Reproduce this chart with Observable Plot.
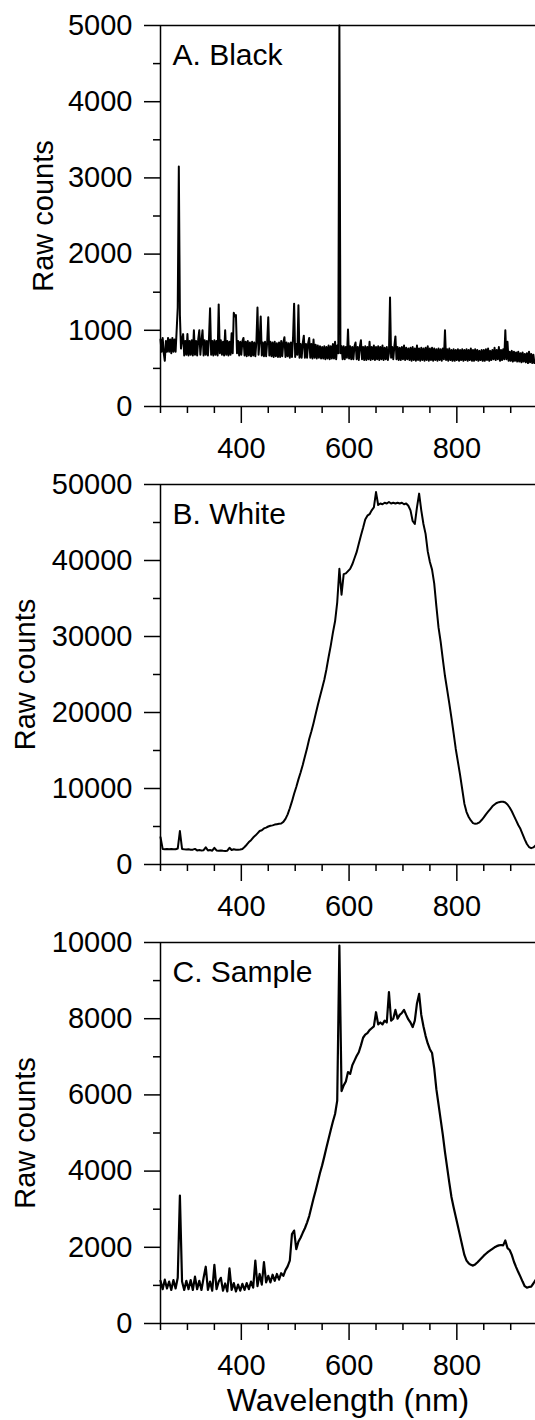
<!DOCTYPE html>
<html><head><meta charset="utf-8">
<script src="https://cdn.jsdelivr.net/npm/d3@7"></script>
<script src="https://cdn.jsdelivr.net/npm/@observablehq/plot@0.6"></script>
<style>
html,body{margin:0;padding:0;background:#fff;}
#chart{position:relative;width:535px;height:1420px;overflow:hidden;background:#fff;}
#chart svg{position:absolute;left:0;}
</style></head><body><div id="chart"></div>
<script>
// Spectra sampling (nm): first wavelength and step of each series
const wavelengthStart = 250;
const blackStep = 2;
const whiteStep = 4;
const sampleStep = 4;

// A. Black — raw counts (every 2 nm from 250 nm)
const blackCounts = [
880,720,900,700,600,860,720,900,720,880,
700,900,720,880,720,1000,1300,3150,1200,760,
880,950,670,860,680,950,670,860,680,870,
670,1000,680,860,670,880,1000,680,860,1000,
670,870,680,860,670,900,1290,680,860,670,
870,680,860,670,1340,700,870,680,850,670,
1000,680,860,670,850,680,960,700,1230,1180,
1200,700,860,670,850,680,860,900,670,850,
660,860,670,840,660,850,670,840,660,850,
1300,680,860,1180,670,840,660,850,660,840,
1170,670,850,660,840,650,850,660,830,650,
840,650,860,660,840,910,650,840,660,830,
640,840,650,900,1350,650,820,680,1330,640,
820,640,830,930,640,820,640,830,900,640,
820,630,880,640,810,630,800,640,790,630,
780,630,790,620,780,630,800,620,790,630,
820,630,850,620,800,700,5000,700,790,620,
790,620,780,640,1010,630,790,620,780,620,
790,840,620,780,610,790,870,620,780,610,
790,610,780,620,850,610,780,620,800,610,
780,620,790,610,780,620,800,610,770,620,
780,610,700,1430,640,780,620,790,920,620,
780,610,770,610,780,620,800,610,770,620,
760,610,770,600,780,610,760,600,800,610,
760,600,770,610,760,600,770,610,790,600,
760,610,770,600,760,610,750,600,760,610,
750,600,760,620,1000,610,750,600,760,610,
740,600,750,600,740,610,750,600,740,610,
750,600,740,610,750,600,740,610,760,600,
740,600,750,610,740,600,730,610,740,600,
740,600,750,610,760,600,730,610,740,620,
770,610,740,620,780,600,740,610,750,620,
1000,620,850,600,720,600,730,590,720,600,
710,590,720,590,700,580,710,590,690,580,
700,570,720,580,690,570,680,570,600
];

// B. White — raw counts (every 4 nm from 250 nm)
const whiteCounts = [
3600,2050,2000,2050,2000,2050,2000,2000,2100,4400,
2050,2000,1980,2000,1950,1950,2050,1850,1900,1850,
1880,2250,1850,1900,1820,2200,1850,1800,1850,1800,
1780,1820,2200,1900,2000,1950,1950,1980,2050,2300,
2600,2950,3200,3550,3800,4100,4400,4500,4750,4850,
5000,5100,5150,5250,5300,5350,5400,5600,6000,6600,
7400,8300,9300,10200,11200,12100,13100,14200,15300,16500,
17500,18600,19800,21000,22100,23200,24300,25700,27300,28800,
30500,32000,34500,38900,35500,38200,38300,38600,38900,39500,
40300,41100,42200,43300,44300,45400,45900,46100,46600,47000,
49000,47300,47500,47400,47600,47500,47700,47500,47600,47500,
47600,47500,47600,47400,47500,47200,46600,45200,44800,47000,
48800,46600,44800,43500,41200,39800,38800,37000,34000,31200,
29300,27000,24800,23000,21200,19300,17300,15200,13500,11800,
9900,8000,6900,6250,5800,5450,5350,5400,5550,5850,
6200,6600,6950,7300,7650,7900,8100,8200,8250,8250,
8150,7900,7500,7000,6400,5800,5200,4700,4000,3300,
2700,2300,2150,2250,2500
];

// C. Sample — raw counts (every 4 nm from 250 nm)
const sampleCounts = [
1120,900,1150,920,1100,880,1140,920,1200,3360,
1100,880,1120,900,1140,880,1230,900,1120,880,
1200,1490,880,1100,860,1540,900,1100,1200,860,
1050,840,1450,880,1060,840,1020,860,1040,880,
1060,900,1100,940,1650,980,1300,1020,1610,1080,
1250,1080,1280,1120,1300,1150,1320,1250,1400,1500,
1650,2350,2440,1950,2150,2250,2380,2500,2650,2820,
3050,3280,3490,3720,3950,4150,4380,4620,4850,5080,
5300,5500,5850,9920,6100,6250,6350,6600,6550,6780,
6900,7020,7120,7300,7500,7580,7620,7700,7750,7800,
8170,7850,7900,7850,7950,7900,8700,7950,8000,8230,
8000,8100,8150,8230,8100,7980,7900,7780,7950,8400,
8650,8100,7800,7550,7350,7200,7100,6700,6150,5750,
5350,4950,4500,4100,3700,3320,3050,2800,2550,2300,
2050,1800,1650,1580,1540,1520,1550,1600,1660,1720,
1780,1830,1880,1920,1960,2000,2030,2050,2060,2050,
2180,1980,1930,1800,1620,1480,1350,1230,1100,980,
940,960,970,1050,1140
];

const panelLabels = ["A. Black", "B. White", "C. Sample"];
const yAxisLabel = "Raw counts";
const xAxisLabel = "Wavelength (nm)";
const xDomain = [250, 946];
const xMajorTicks = [400, 600, 800];
const xMinorTicks = [250, 300, 350, 450, 500, 550, 650, 700, 750, 850, 900];
const yTicksBlack = [0, 1000, 2000, 3000, 4000, 5000];
const yMinorBlack = [500, 1500, 2500, 3500, 4500];
const yTicksWhite = [0, 10000, 20000, 30000, 40000, 50000];
const yMinorWhite = [5000, 15000, 25000, 35000, 45000];
const yTicksSample = [0, 2000, 4000, 6000, 8000, 10000];
const yMinorSample = [1000, 3000, 5000, 7000, 9000];

const FONT = "Liberation Sans, Arial, sans-serif";
const FS = 29;

function panel({counts, step, label, yTicks, yMinor, top, height, marginTop, marginBottom, showXLabel, lineWidth, yLabelDx}) {
  const data = counts.map((v, i) => ({wl: wavelengthStart + i * step, v}));
  const yMax = yTicks[yTicks.length - 1];
  const marks = [
    Plot.axisY(yTicks, {anchor: "left", tickSize: 16, tickPadding: 12, tickFormat: d => String(d), fontSize: FS, fontFamily: FONT, strokeWidth: 1.5, label: null}),
    Plot.axisY(yMinor, {anchor: "left", tickSize: 7, tickFormat: () => "", strokeWidth: 1.5, label: null}),
    Plot.axisX(xMajorTicks, {anchor: "bottom", tickSize: 17, tickPadding: 14, tickFormat: d => String(d), fontSize: FS, fontFamily: FONT, strokeWidth: 1.5, label: null}),
    Plot.axisX(xMinorTicks, {anchor: "bottom", tickSize: 7, tickFormat: () => "", strokeWidth: 1.5, label: null}),
    Plot.ruleY([0, yMax], {stroke: "black", strokeWidth: 1.5}),
    Plot.ruleX([xDomain[0]], {stroke: "black", strokeWidth: 1.5}),
    Plot.lineY(data, {x: "wl", y: "v", stroke: "black", strokeWidth: lineWidth}),
    Plot.text([label], {text: d => d, frameAnchor: "top-left", textAnchor: "start", lineAnchor: "top", dx: 12, dy: 18, fontSize: 30, fontFamily: FONT, fill: "black"}),
    Plot.text([yAxisLabel], {text: d => d, frameAnchor: "left", rotate: -90, textAnchor: "middle", lineAnchor: "middle", dx: yLabelDx, fontSize: FS, fontFamily: FONT, fill: "black"})
  ];
  if (showXLabel) {
    marks.push(Plot.text([xAxisLabel], {text: d => d, frameAnchor: "bottom", textAnchor: "middle", lineAnchor: "middle", dy: 77, fontSize: 32, fontFamily: FONT, fill: "black"}));
  }
  const svg = Plot.plot({
    width: 535,
    height,
    marginLeft: 160,
    marginRight: 0,
    marginTop,
    marginBottom,
    style: {fontFamily: FONT, fontSize: FS + "px", color: "black", background: "transparent", overflow: "visible"},
    x: {domain: xDomain, label: null},
    y: {domain: [0, yMax], label: null},
    marks
  });
  svg.style.top = top + "px";
  return svg;
}

const chart = document.getElementById("chart");
chart.appendChild(panel({counts: blackCounts, step: blackStep, label: panelLabels[0], yTicks: yTicksBlack, yMinor: yMinorBlack, top: 0, height: 470, marginTop: 25, marginBottom: 64, lineWidth: 2, yLabelDx: -117}));
chart.appendChild(panel({counts: whiteCounts, step: whiteStep, label: panelLabels[1], yTicks: yTicksWhite, yMinor: yMinorWhite, top: 470, height: 455, marginTop: 14, marginBottom: 61, lineWidth: 2, yLabelDx: -135}));
chart.appendChild(panel({counts: sampleCounts, step: sampleStep, label: panelLabels[2], yTicks: yTicksSample, yMinor: yMinorSample, top: 925, height: 495, marginTop: 17, marginBottom: 97, showXLabel: true, lineWidth: 2.2, yLabelDx: -135}));
</script></body></html>
